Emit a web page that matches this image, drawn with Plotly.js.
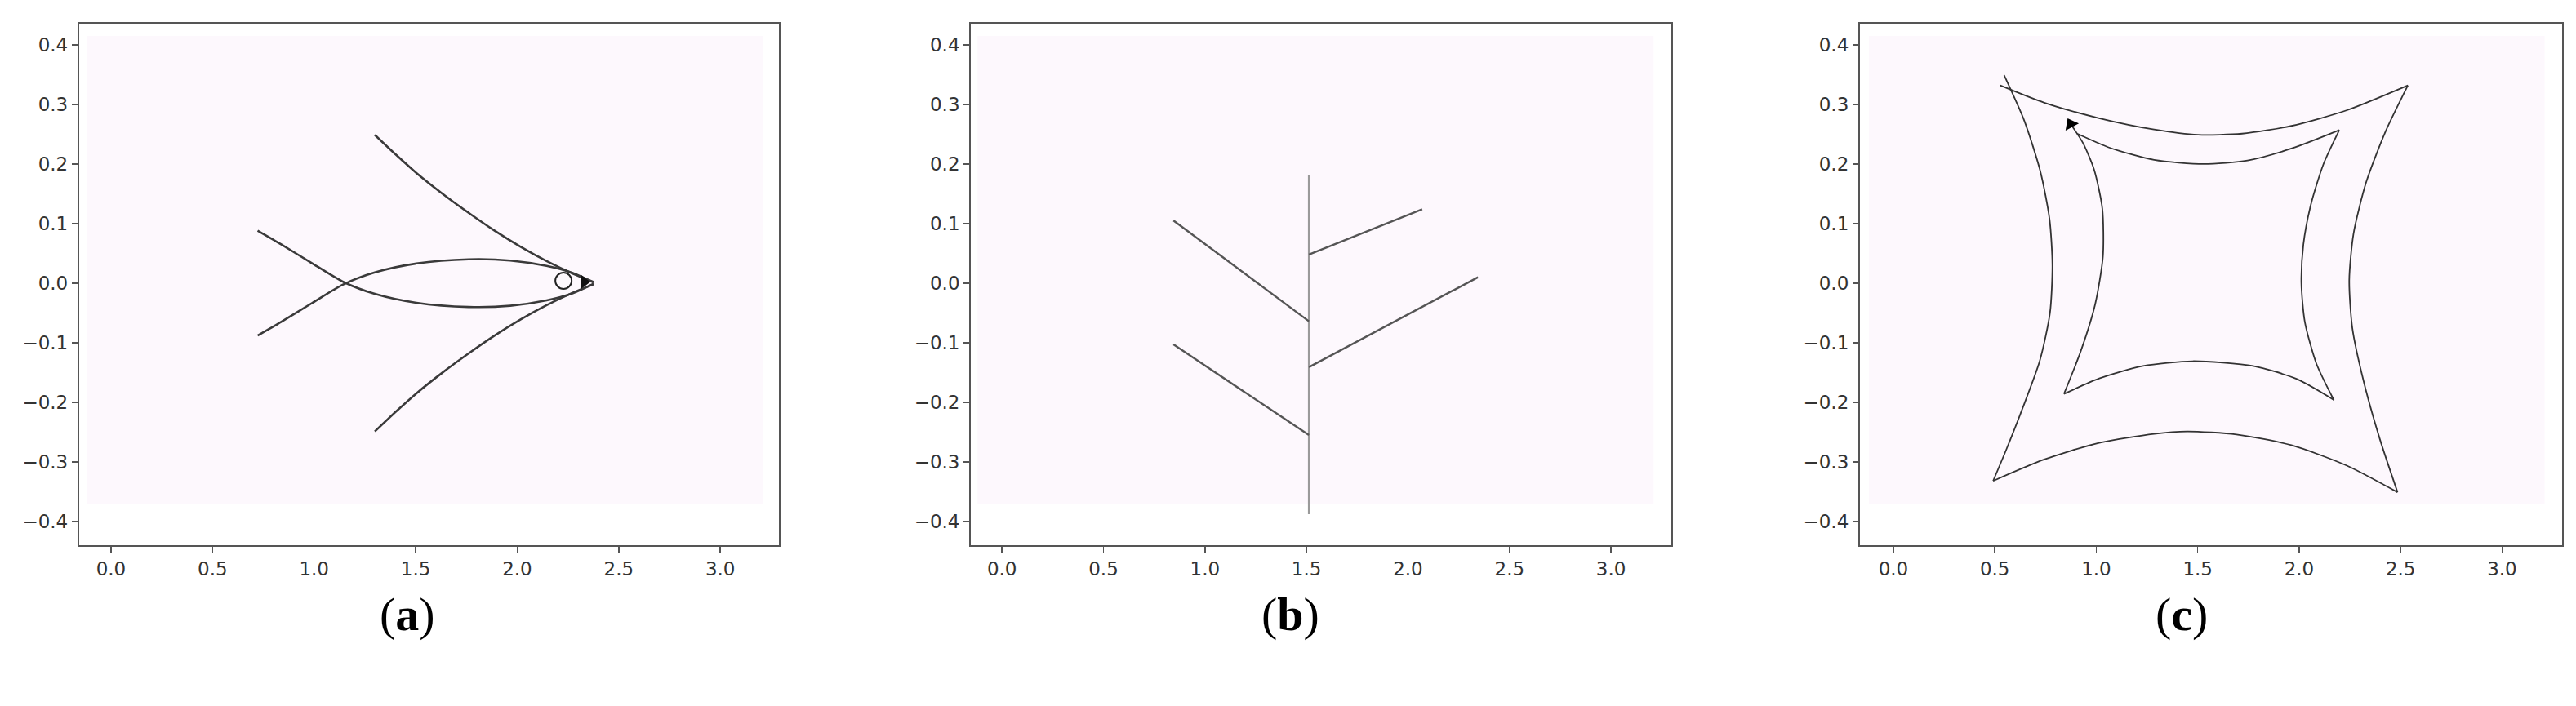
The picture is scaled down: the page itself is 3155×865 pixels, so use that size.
<!DOCTYPE html>
<html>
<head>
<meta charset="utf-8">
<script src="https://cdn.plot.ly/plotly-3.0.1.min.js"></script>
<style>html,body{margin:0;padding:0;background:#fff;}#chart{width:3155px;height:865px;}</style>
</head>
<body>
<div id="chart"></div>
<script>
// ---------- data ----------
const xTickVals = [0, 0.5, 1.0, 1.5, 2.0, 2.5, 3.0];
const yTickVals = [-0.4, -0.3, -0.2, -0.1, 0.0, 0.1, 0.2, 0.3, 0.4];
const captions = ["a", "b", "c"];

// (a) fish
const fishTailUpX  = [1.299, 1.402, 1.504, 1.633, 1.761, 1.889, 2.017, 2.145, 2.274, 2.376];
const fishTailUpY  = [0.249, 0.216, 0.185, 0.150, 0.118, 0.088, 0.061, 0.037, 0.016, 0.002];
const fishTailLowX = [1.299, 1.402, 1.504, 1.633, 1.761, 1.889, 2.017, 2.145, 2.274, 2.376];
const fishTailLowY = [-0.249, -0.216, -0.185, -0.150, -0.118, -0.088, -0.061, -0.037, -0.016, -0.002];
const fishBodyAX = [0.722, 0.838, 0.992, 1.145, 1.299, 1.504, 1.761, 1.966, 2.145, 2.274, 2.376];
const fishBodyAY = [0.088, 0.065, 0.033, 0.002, -0.018, -0.033, -0.040, -0.038, -0.029, -0.017, -0.001];
const fishBodyBX = [0.722, 0.838, 0.992, 1.145, 1.299, 1.504, 1.761, 1.966, 2.145, 2.274, 2.376];
const fishBodyBY = [-0.088, -0.065, -0.033, -0.002, 0.018, 0.033, 0.040, 0.038, 0.029, 0.017, 0.001];
const fishEyeX = [2.228], fishEyeY = [0.004];
const fishNoseX = [2.330], fishNoseY = [0.002];

// (b) tree
const treeStemX = [1.512, 1.512];
const treeStemY = [0.182, -0.388];
const treeBranchX = [[0.845, 1.512], [0.845, 1.512], [1.512, 2.070], [1.512, 2.345]];
const treeBranchY = [[0.105, -0.064], [-0.103, -0.255], [0.048, 0.124], [-0.141, 0.010]];

// (c) four-cusp loops
const outerTopX = [0.527, 0.744, 1.014, 1.285, 1.502, 1.719, 1.962, 2.233, 2.536];
const outerTopY = [0.332, 0.303, 0.277, 0.258, 0.249, 0.251, 0.264, 0.290, 0.332];
const outerLeftX = [0.546, 0.645, 0.725, 0.770, 0.784, 0.772, 0.722, 0.637, 0.556, 0.492];
const outerLeftY = [0.349, 0.273, 0.187, 0.107, 0.030, -0.050, -0.130, -0.210, -0.280, -0.332];
const outerRightX = [2.536, 2.425, 2.330, 2.268, 2.247, 2.262, 2.318, 2.398, 2.485];
const outerRightY = [0.332, 0.254, 0.169, 0.083, 0.005, -0.075, -0.165, -0.262, -0.351];
const outerBottomX = [0.492, 0.744, 1.014, 1.285, 1.448, 1.691, 1.962, 2.233, 2.485];
const outerBottomY = [-0.332, -0.296, -0.268, -0.253, -0.249, -0.254, -0.272, -0.306, -0.351];
const innerTopX = [0.906, 1.069, 1.285, 1.529, 1.746, 1.962, 2.198];
const innerTopY = [0.251, 0.227, 0.207, 0.200, 0.206, 0.226, 0.257];
const innerRightX = [2.198, 2.120, 2.058, 2.021, 2.011, 2.028, 2.085, 2.171];
const innerRightY = [0.257, 0.200, 0.132, 0.065, 0.000, -0.065, -0.135, -0.196];
const innerBottomX = [2.171, 1.989, 1.773, 1.475, 1.231, 1.015, 0.841];
const innerBottomY = [-0.196, -0.161, -0.139, -0.131, -0.139, -0.160, -0.186];
const innerLeftX = [0.841, 0.925, 0.995, 1.033, 1.030, 0.990, 0.935, 0.874];
const innerLeftY = [-0.186, -0.113, -0.035, 0.045, 0.125, 0.190, 0.235, 0.267];

// ---------- traces ----------
const traces = [];
function curve(x, y, ax, color, width, smooth) {
  traces.push({x: x, y: y, xaxis: ax.x, yaxis: ax.y, type: 'scatter', mode: 'lines',
    line: {color: color, width: width, shape: 'spline', smoothing: smooth}, hoverinfo: 'skip', showlegend: false});
}
const A = {x: 'x', y: 'y'}, B = {x: 'x2', y: 'y2'}, C = {x: 'x3', y: 'y3'};

const fishCol = '#3a3a3a';
curve(fishTailUpX, fishTailUpY, A, fishCol, 2.6, 0.8);
curve(fishTailLowX, fishTailLowY, A, fishCol, 2.6, 0.8);
curve(fishBodyAX, fishBodyAY, A, fishCol, 2.6, 0.8);
curve(fishBodyBX, fishBodyBY, A, fishCol, 2.6, 0.8);
traces.push({x: fishEyeX, y: fishEyeY, xaxis: 'x', yaxis: 'y', type: 'scatter', mode: 'markers',
  marker: {symbol: 'circle-open', size: 20, color: '#222', line: {width: 2, color: '#222'}}, showlegend: false, hoverinfo: 'skip'});
traces.push({x: fishNoseX, y: fishNoseY, xaxis: 'x', yaxis: 'y', type: 'scatter', mode: 'markers',
  marker: {symbol: 'triangle-right', size: 15, color: '#111'}, showlegend: false, hoverinfo: 'skip'});

curve(treeStemX, treeStemY, B, '#9a9a9a', 2.4, 0);
for (let i = 0; i < treeBranchX.length; i++) curve(treeBranchX[i], treeBranchY[i], B, '#555', 2.4, 0);

const loopCol = '#333';
const sm = 0.7;
curve(outerTopX, outerTopY, C, loopCol, 1.8, sm);
curve(outerLeftX, outerLeftY, C, loopCol, 1.8, sm);
curve(outerRightX, outerRightY, C, loopCol, 1.8, sm);
curve(outerBottomX, outerBottomY, C, loopCol, 1.8, sm);
curve(innerTopX, innerTopY, C, loopCol, 1.8, sm);
curve(innerRightX, innerRightY, C, loopCol, 1.8, sm);
curve(innerBottomX, innerBottomY, C, loopCol, 1.8, sm);
curve(innerLeftX, innerLeftY, C, loopCol, 1.8, sm);
const n = innerLeftX.length;
traces.push({x: [innerLeftX[n - 1]], y: [innerLeftY[n - 1]], xaxis: 'x3', yaxis: 'y3', type: 'scatter', mode: 'markers',
  marker: {symbol: 'triangle-up', size: 16, color: '#000', angle: -28}, showlegend: false, hoverinfo: 'skip'});

// ---------- layout ----------
const tickFont = {family: 'DejaVu Sans', size: 23, color: '#333'};
function xa(domain, range) {
  return {domain: domain, range: range, tickvals: xTickVals, tickformat: '.1f', ticks: 'outside', ticklen: 7,
    tickwidth: 1.5, tickcolor: '#555', showline: true, mirror: true, linecolor: '#555', linewidth: 2,
    showgrid: false, zeroline: false, tickfont: tickFont, fixedrange: true};
}
function ya(anchor) {
  return {domain: [0.2277, 0.9668], range: [-0.44, 0.436], tickvals: yTickVals, tickformat: '.1f', ticks: 'outside',
    ticklen: 7, tickwidth: 1.5, tickcolor: '#555', showline: true, mirror: true, linecolor: '#555', linewidth: 2,
    showgrid: false, zeroline: false, tickfont: tickFont, anchor: anchor, fixedrange: true};
}
const bgShapes = ['', '2', '3'].map(s => ({type: 'rect', xref: 'x' + s, yref: 'y' + s, x0: -0.12, x1: 3.21,
  y0: -0.37, y1: 0.415, fillcolor: '#fdf8fd', line: {width: 0}, layer: 'below'}));
const capX = [0.1582, 0.5011, 0.8469];
const layout = {
  width: 3155, height: 865, margin: {l: 0, r: 0, t: 0, b: 0},
  paper_bgcolor: '#fff', plot_bgcolor: '#fff', showlegend: false,
  xaxis: Object.assign(xa([0.0307, 0.3024], [-0.157, 3.289]), {anchor: 'y'}),
  yaxis: ya('x'),
  xaxis2: Object.assign(xa([0.3769, 0.6488], [-0.153, 3.297]), {anchor: 'y2'}),
  yaxis2: ya('x2'),
  xaxis3: Object.assign(xa([0.7220, 0.9946], [-0.165, 3.296]), {anchor: 'y3'}),
  yaxis3: ya('x3'),
  shapes: bgShapes,
  annotations: captions.map((c, i) => ({xref: 'paper', yref: 'paper', x: capX[i], y: 0.13,
    xanchor: 'center', yanchor: 'middle', showarrow: false, text: '(<b>' + c + '</b>)',
    font: {family: 'Liberation Serif', size: 58, color: '#000'}}))
};
Plotly.newPlot('chart', traces, layout, {staticPlot: true, displayModeBar: false});
</script>
</body>
</html>
